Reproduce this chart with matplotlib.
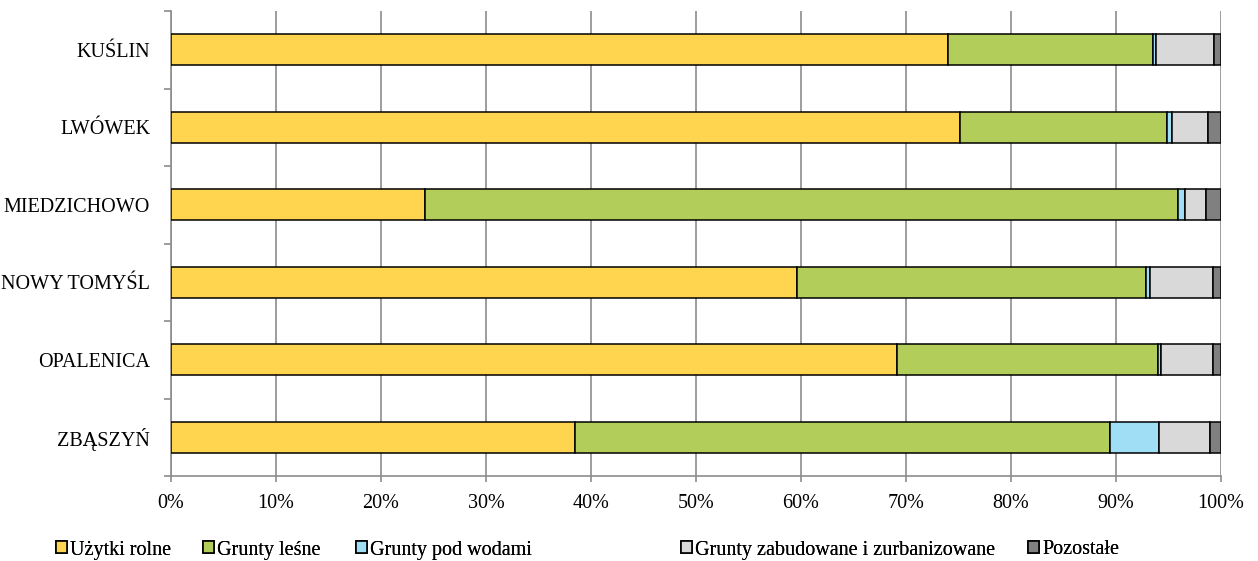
import numpy as np
import matplotlib
matplotlib.use("Agg")
import matplotlib.pyplot as plt
from matplotlib.patches import Patch

plt.rcParams["font.family"] = ["Liberation Serif", "DejaVu Serif"]

# dane (udział procentowy form użytkowania gruntów)
gminy = ['KUŚLIN', 'LWÓWEK', 'MIEDZICHOWO', 'NOWY TOMYŚL', 'OPALENICA', 'ZBĄSZYŃ']
uzytki_rolne = [74.0, 75.1, 24.2, 59.6, 69.1, 38.5]
grunty_lesne = [19.5, 19.8, 71.7, 33.3, 24.9, 50.9]
grunty_wody = [0.3, 0.4, 0.7, 0.3, 0.3, 4.7]
grunty_zabud = [5.5, 3.5, 2.0, 6.0, 4.9, 4.9]
pozostale = [0.7, 1.2, 1.4, 0.8, 0.8, 1.0]

serie = ['Użytki rolne', 'Grunty leśne', 'Grunty pod wodami',
         'Grunty zabudowane i zurbanizowane', 'Pozostałe']
kolory = ['#FFD550', '#B3CD5A', '#A0DEF5', '#D9D9D9', '#808080']

wartosci = np.array([uzytki_rolne, grunty_lesne, grunty_wody, grunty_zabud, pozostale])
wartosci = wartosci / wartosci.sum(axis=0) * 100  # 100% skumulowane

fig = plt.figure(figsize=(12.58, 5.61), dpi=100)
ax = fig.add_axes([171 / 1258, 1 - 476 / 561, 1050 / 1258, 465 / 561])

y = np.arange(len(gminy))[::-1]
lewo = np.zeros(len(gminy))
for i in range(len(serie)):
    ax.barh(y, wartosci[i], left=lewo, height=0.4, color=kolory[i],
            edgecolor='black', linewidth=1.1, zorder=3)
    lewo += wartosci[i]

ax.set_xlim(0, 100)
ax.set_ylim(-0.5, len(gminy) - 0.5)
ax.set_xticks(np.arange(0, 101, 10))
ax.set_xticklabels([f'{v}%' for v in range(0, 101, 10)])
ax.set_yticks(y)
ax.set_yticklabels(gminy)
ax.set_yticks(np.arange(-0.5, len(gminy), 1), minor=True)

ax.grid(axis='x', color='#8C8C8C', linewidth=1.2, zorder=0)
for s in ['top', 'right']:
    ax.spines[s].set_visible(False)
for s in ['left', 'bottom']:
    ax.spines[s].set_color('#8C8C8C')
    ax.spines[s].set_linewidth(1.2)

ax.tick_params(axis='y', which='major', length=0, pad=15, labelsize=14.5)
ax.tick_params(axis='y', which='minor', length=5, width=1.2, color='#8C8C8C')
ax.tick_params(axis='x', length=4, width=1.2, color='#8C8C8C', pad=9, labelsize=14.5)

# legenda - każdy wpis osobno, jak w oryginale
pozycje_x = [56, 203, 356, 681, 1028]
for nazwa, kolor, px in zip(serie, kolory, pozycje_x):
    leg = fig.legend(handles=[Patch(facecolor=kolor, edgecolor='black', linewidth=1.2)],
                     labels=[nazwa], loc='center left',
                     bbox_to_anchor=(px / 1258, 1 - 550 / 561),
                     frameon=False, fontsize=14.5, handlelength=0.55, handleheight=0.55,
                     handletextpad=0.15, borderpad=0, borderaxespad=0)
    fig.add_artist(leg)

fig.savefig('out.png', dpi=100)
